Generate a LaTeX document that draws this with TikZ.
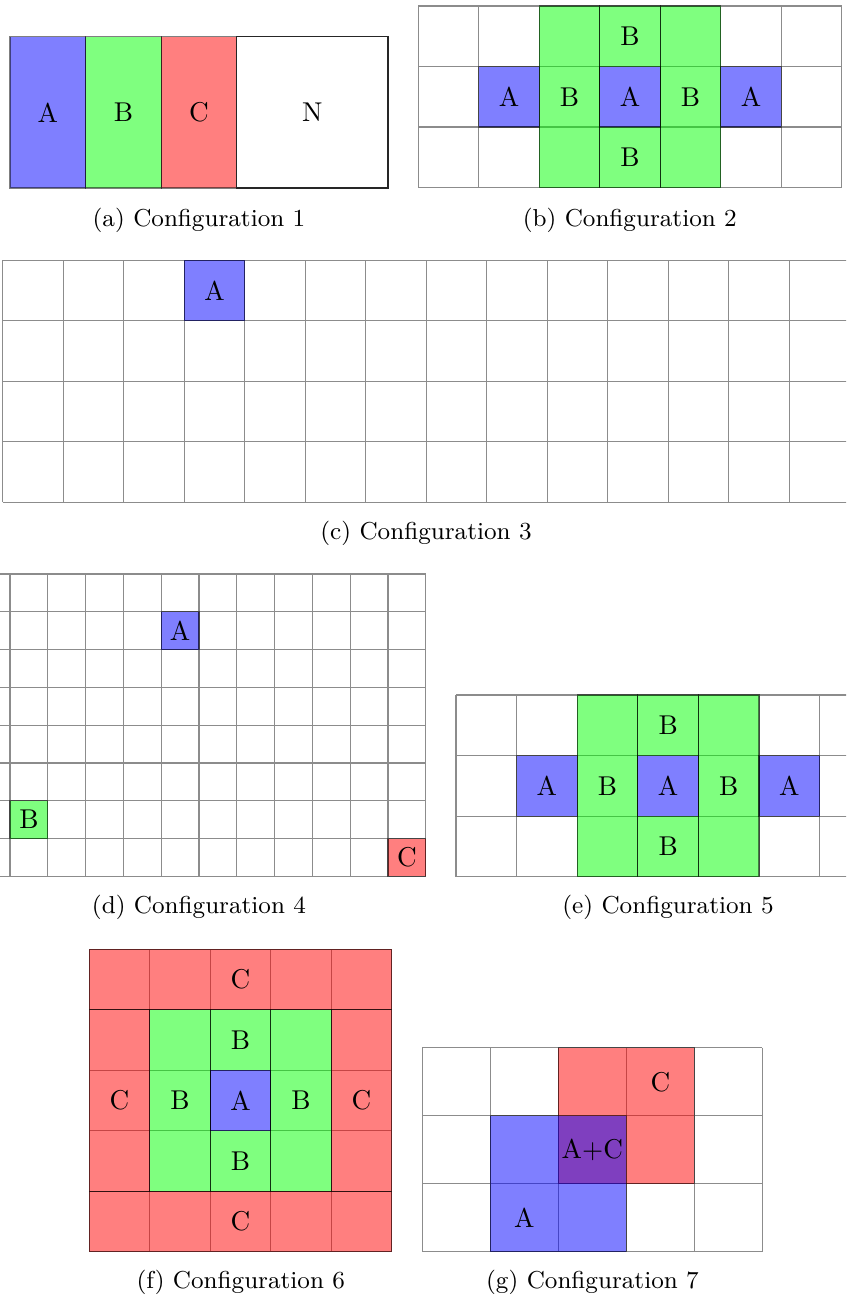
\documentclass[tikz,border=0pt]{standalone}
\newcommand{\cellgrid}[4]{%
  \foreach \gi in {#1,...,#2} \draw[gridline] (\gi,#3) -- (\gi,#4);
  \foreach \gj in {#3,...,#4} \draw[gridline] (#1,\gj) -- (#2,\gj);}
\begin{document}
\begin{tikzpicture}[x=0.3676pt,y=-0.3676pt,
  gridline/.style={draw=black!45, line width=0.4pt},
  outl/.style={draw=black, draw opacity=0.5, line width=0.45pt},
  fA/.style={fill=blue, fill opacity=0.5},
  fB/.style={fill=green, fill opacity=0.5},
  fC/.style={fill=red, fill opacity=0.5},
  lab/.style={inner sep=0pt, font=\normalsize},
  captxt/.style={anchor=base, inner sep=0pt, font=\small}]
\path[use as bounding box] (0,0) rectangle (846,1299);
\clip (0,0) rectangle (846,1299);

% ---------------- (a)
\begin{scope}[shift={(10,36.7)}, x=27.79pt, y=-27.79pt]
  \fill[fA] (0,0) rectangle (1,2);
  \fill[fB] (1,0) rectangle (2,2);
  \fill[fC] (2,0) rectangle (3,2);
  \draw[outl] (0,0) rectangle (1,2);
  \draw[outl] (1,0) rectangle (2,2);
  \draw[outl] (2,0) rectangle (3,2);
  \draw[draw=black!85, line width=0.45pt] (3,0) rectangle (5,2);
  \node[lab] (aA) at (0.5,1) {A};
  \node[lab] (aB) at (1.5,1) {B};
  \node[lab] (aC) at (2.5,1) {C};
  \node[lab] (aN) at (4,1) {N};
\end{scope}
\node[captxt] (capa) at (199,226) {(a) Configuration 1};

% ---------------- (b)
\begin{scope}[shift={(418.3,6)}, x=22.24pt, y=-22.24pt]
  \cellgrid{0}{7}{0}{3}
  \foreach \c/\r in {2/0,3/0,4/0,2/1,4/1,2/2,3/2,4/2}
    \fill[fB] (\c,\r) rectangle ++(1,1);
  \foreach \c in {1,3,5}
    \fill[fA] (\c,1) rectangle ++(1,1);
  \foreach \c in {2,3,4}
    \draw[outl] (\c,0) rectangle ++(1,3);
  \foreach \c in {1,3,5}
    \draw[outl] (\c,1) rectangle ++(1,1);
  \node[lab] (bB1) at (3.5,0.5) {B};
  \node[lab] (bA1) at (1.5,1.5) {A};
  \node[lab] (bB2) at (2.5,1.5) {B};
  \node[lab] (bA2) at (3.5,1.5) {A};
  \node[lab] (bB3) at (4.5,1.5) {B};
  \node[lab] (bA3) at (5.5,1.5) {A};
  \node[lab] (bB4) at (3.5,2.5) {B};
\end{scope}
\node[captxt] (capb) at (629.8,226) {(b) Configuration 2};

% ---------------- (c)
\begin{scope}[shift={(2.7,260.3)}, x=22.24pt, y=-22.24pt]
  \cellgrid{0}{14}{0}{4}
  \fill[fA] (3,0) rectangle ++(1,1);
  \draw[outl] (3,0) rectangle ++(1,1);
  \node[lab] (cA) at (3.5,0.5) {A};
\end{scope}
\node[captxt] (capc) at (426,539) {(c) Configuration 3};

% ---------------- (d)
\begin{scope}[shift={(10,574)}, x=13.895pt, y=-13.895pt]
  \cellgrid{-1}{11}{0}{8}
  \fill[fA] (4,1) rectangle ++(1,1);
  \fill[fB] (0,6) rectangle ++(1,1);
  \fill[fC] (10,7) rectangle ++(1,1);
  \draw[outl] (4,1) rectangle ++(1,1);
  \draw[outl] (0,6) rectangle ++(1,1);
  \draw[outl] (10,7) rectangle ++(1,1);
  \node[lab] (dA) at (4.5,1.5) {A};
  \node[lab] (dB) at (0.5,6.5) {B};
  \node[lab] (dC) at (10.5,7.5) {C};
\end{scope}
\node[captxt] (capd) at (199,913) {(d) Configuration 4};

% ---------------- (e)
\begin{scope}[shift={(456,695)}, x=22.28pt, y=-22.28pt]
  \cellgrid{0}{7}{0}{3}
  \foreach \c/\r in {2/0,3/0,4/0,2/1,4/1,2/2,3/2,4/2}
    \fill[fB] (\c,\r) rectangle ++(1,1);
  \foreach \c in {1,3,5}
    \fill[fA] (\c,1) rectangle ++(1,1);
  \foreach \c in {2,3,4}
    \draw[outl] (\c,0) rectangle ++(1,3);
  \foreach \c in {1,3,5}
    \draw[outl] (\c,1) rectangle ++(1,1);
  \node[lab] (eB1) at (3.5,0.5) {B};
  \node[lab] (eA1) at (1.5,1.5) {A};
  \node[lab] (eB2) at (2.5,1.5) {B};
  \node[lab] (eA2) at (3.5,1.5) {A};
  \node[lab] (eB3) at (4.5,1.5) {B};
  \node[lab] (eA3) at (5.5,1.5) {A};
  \node[lab] (eB4) at (3.5,2.5) {B};
\end{scope}
\node[captxt] (cape) at (668,913) {(e) Configuration 5};

% ---------------- (f)
\begin{scope}[shift={(89.3,949.3)}, x=22.24pt, y=-22.24pt]
  \cellgrid{0}{5}{0}{5}
  \fill[fC] (0,0) rectangle (5,1);
  \fill[fC] (0,4) rectangle (5,5);
  \fill[fC] (0,1) rectangle (1,4);
  \fill[fC] (4,1) rectangle (5,4);
  \foreach \c/\r in {1/1,2/1,3/1,1/2,3/2,1/3,2/3,3/3}
    \fill[fB] (\c,\r) rectangle ++(1,1);
  \fill[fA] (2,2) rectangle ++(1,1);
  \draw[outl] (0,0) rectangle (5,1);
  \draw[outl] (0,4) rectangle (5,5);
  \draw[outl] (0,1) rectangle (1,4);
  \draw[outl] (4,1) rectangle (5,4);
  \foreach \c in {1,2,3}
    \draw[outl] (\c,1) rectangle ++(1,3);
  \draw[outl] (2,2) rectangle ++(1,1);
  \node[lab] (fC1) at (2.5,0.5) {C};
  \node[lab] (fB1) at (2.5,1.5) {B};
  \node[lab] (fC2) at (0.5,2.5) {C};
  \node[lab] (fB2) at (1.5,2.5) {B};
  \node[lab] (fA1) at (2.5,2.5) {A};
  \node[lab] (fB3) at (3.5,2.5) {B};
  \node[lab] (fC3) at (4.5,2.5) {C};
  \node[lab] (fB4) at (2.5,3.5) {B};
  \node[lab] (fC4) at (2.5,4.5) {C};
\end{scope}
\node[captxt] (capf) at (240.8,1288) {(f) Configuration 6};

% ---------------- (g)
\begin{scope}[shift={(422.3,1047.7)}, x=25pt, y=-25pt]
  \cellgrid{0}{5}{0}{3}
  \fill[fC] (2,0) rectangle (4,2);
  \draw[outl] (2,0) rectangle (4,2);
  \fill[fA] (1,1) rectangle (3,3);
  \draw[outl] (1,1) rectangle (3,3);
  \node[lab] (gC) at (3.5,0.5) {C};
  \node[lab] (gAC) at (2.5,1.5) {A+C};
  \node[lab] (gA) at (1.5,2.5) {A};
\end{scope}
\node[captxt] (capg) at (592.5,1288) {(g) Configuration 7};
\end{tikzpicture}
\end{document}
